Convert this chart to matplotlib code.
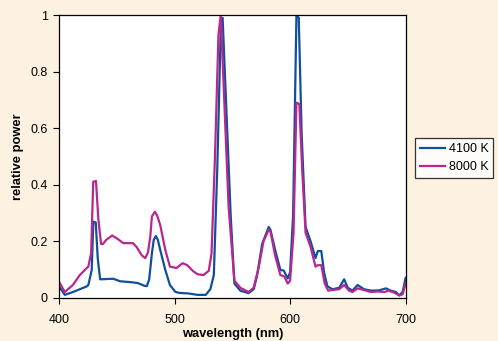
import matplotlib
matplotlib.use("Agg")
import matplotlib.pyplot as plt

plt.rcParams['font.family'] = ['Liberation Sans', 'DejaVu Sans']

# spectra
wl_4100 = [400, 405, 412, 418, 424, 425.4, 428.3, 429.7, 431.8, 433.5, 435.6, 441, 447, 453,
           462, 468, 474, 476, 478, 480.4, 482, 483.8, 485.5, 487.6, 492, 496, 500.6, 504,
           512, 520, 527, 531, 534, 537, 540, 541.6, 545.7, 548.6, 551.8, 556.9, 564, 568.5,
           571.4, 575.8, 581.5, 583, 587, 591.6, 594.5, 598, 600, 602.6, 605.5, 607.5, 610,
           613.4, 617.7, 622, 624, 627, 629.4, 632.3, 636.7, 642.5, 646.8, 650, 654, 658.4,
           664, 670, 677, 683, 687, 691.6, 694.5, 697.4, 700]
pw_4100 = [0.04, 0.01, 0.02, 0.03, 0.04, 0.045, 0.098, 0.269, 0.266, 0.14, 0.065, 0.066, 0.067,
           0.058, 0.055, 0.052, 0.042, 0.041, 0.064, 0.157, 0.205, 0.218, 0.205, 0.169, 0.098,
           0.045, 0.021, 0.017, 0.015, 0.01, 0.01, 0.03, 0.08, 0.46, 0.95, 0.99, 0.58, 0.29,
           0.05, 0.025, 0.016, 0.03, 0.078, 0.19, 0.25, 0.24, 0.17, 0.098, 0.096, 0.068, 0.09,
           0.29, 1.0, 0.99, 0.58, 0.25, 0.2, 0.14, 0.165, 0.165, 0.09, 0.04, 0.03, 0.035, 0.065,
           0.035, 0.025, 0.045, 0.03, 0.025, 0.026, 0.033, 0.025, 0.02, 0.008, 0.02, 0.07]

wl_8000 = [400, 405, 412, 418, 424, 425.4, 427.8, 429.6, 432, 434, 436.4, 438, 441, 446, 450,
           455.6, 464, 467, 471.6, 474.6, 477, 479, 480.4, 483, 485, 487.6, 492, 496, 501.6,
           507, 511, 516, 520, 525, 529.6, 532, 535, 538, 540, 543, 546.8, 551.8, 557, 564,
           568.5, 573, 577, 581.5, 583, 587, 591.6, 595, 598, 600, 603, 605.5, 608, 610.4,
           613.4, 617.7, 622, 624, 627, 630, 633, 638, 642.5, 646.8, 651, 654, 658.4, 664,
           670, 676, 682, 685, 690, 694.5, 697.4, 700]
pw_8000 = [0.057, 0.02, 0.045, 0.08, 0.105, 0.11, 0.158, 0.41, 0.413, 0.28, 0.19, 0.19, 0.205,
           0.22, 0.21, 0.193, 0.193, 0.18, 0.15, 0.14, 0.16, 0.216, 0.287, 0.304, 0.29, 0.257,
           0.169, 0.11, 0.105, 0.122, 0.115, 0.094, 0.083, 0.08, 0.095, 0.156, 0.5, 0.93, 1.0,
           0.70, 0.32, 0.06, 0.035, 0.02, 0.035, 0.11, 0.2, 0.24, 0.235, 0.15, 0.08, 0.075,
           0.05, 0.06, 0.23, 0.69, 0.685, 0.46, 0.23, 0.18, 0.11, 0.115, 0.115, 0.05, 0.025,
           0.028, 0.03, 0.045, 0.025, 0.02, 0.033, 0.027, 0.02, 0.022, 0.02, 0.025, 0.018,
           0.008, 0.012, 0.05]

x_ticks = [400, 500, 600, 700]
y_ticks = [0, 0.2, 0.4, 0.6, 0.8, 1]
y_tick_labels = ["0", "0.2", "0.4", "0.6", "0.8", "1"]

BLUE = "#0f4f9c"
MAGENTA = "#b8268f"
BG = "#fdf2e1"

fig = plt.figure(figsize=(4.98, 3.41), dpi=100, facecolor=BG)
ax = fig.add_axes([0.1185, 0.127, 0.696, 0.829])
ax.set_facecolor("white")

ax.plot(wl_4100, pw_4100, color=BLUE, lw=1.6, label="4100 K", solid_joinstyle="round")
ax.plot(wl_8000, pw_8000, color=MAGENTA, lw=1.6, label="8000 K", solid_joinstyle="round")

ax.set_xlim(400, 700)
ax.set_ylim(0, 1)
ax.set_xticks(x_ticks)
ax.set_yticks(y_ticks)
ax.set_yticklabels(y_tick_labels)
ax.tick_params(direction="out", length=4, width=0.8, labelsize=9, colors="black")
ax.tick_params(axis="x", pad=8)
ax.tick_params(axis="y", pad=4)
for s in ax.spines.values():
    s.set_linewidth(0.9)
    s.set_color("black")

ax.set_xlabel("wavelength (nm)", fontsize=9.3, fontweight="bold", labelpad=1)
ax.set_ylabel("relative power", fontsize=9.3, fontweight="bold", labelpad=5)

leg = fig.legend(loc="center left", bbox_to_anchor=(0.833, 0.536), fontsize=9,
                 frameon=True, fancybox=False, shadow=False, handlelength=2.0,
                 borderpad=0.4, labelspacing=0.5, handletextpad=0.3, borderaxespad=0)
leg.get_frame().set_edgecolor("black")
leg.get_frame().set_linewidth(0.9)

fig.savefig("out.png", dpi=100, facecolor=BG)
